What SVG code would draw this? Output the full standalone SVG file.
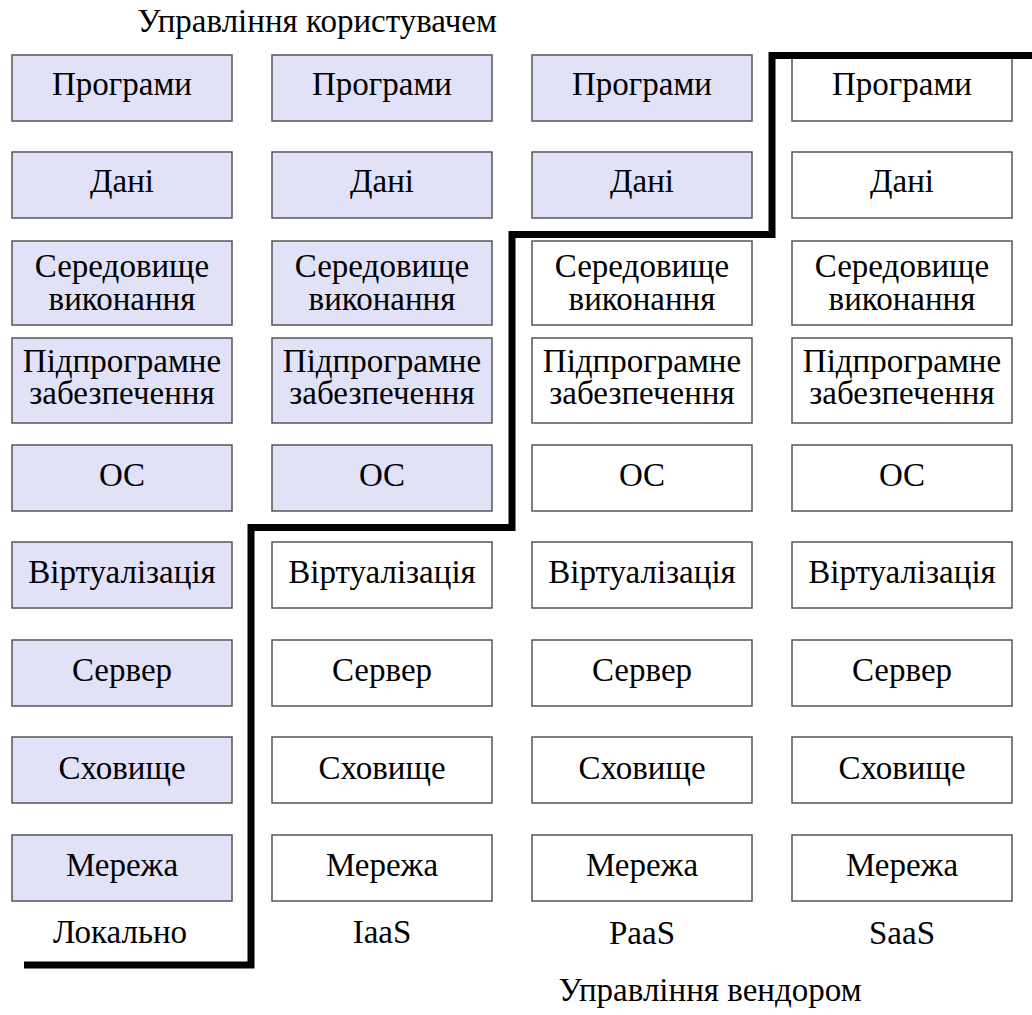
<svg xmlns="http://www.w3.org/2000/svg" width="1032" height="1015" viewBox="0 0 1032 1015">
<style>
  text { font-family: 'Liberation Serif', 'Times New Roman', serif; font-size: 33px; fill: #000; text-anchor: middle; }
  .box { stroke: #555; stroke-width: 1.5; }
  .u { fill: #e1e1f8; }
  .v { fill: #ffffff; }
  .step { fill: none; stroke: #000; stroke-width: 7; }
</style>
<rect width="1032" height="1015" fill="#fff"/>
<text x="317" y="32">Управління користувачем</text>

<g id="col-local">
  <g id="n-l-apps"><rect class="box u" x="12" y="55" width="220" height="66"/><text x="122" y="95">Програми</text></g>
  <g id="n-l-data"><rect class="box u" x="12" y="152" width="220" height="66"/><text x="122" y="192">Дані</text></g>
  <g id="n-l-rt"><rect class="box u" x="12" y="241" width="220" height="84"/><text><tspan x="122" y="277">Середовище</tspan><tspan x="122" y="310">виконання</tspan></text></g>
  <g id="n-l-mw"><rect class="box u" x="12" y="338" width="220" height="85"/><text><tspan x="122" y="372">Підпрограмне</tspan><tspan x="122" y="404">забезпечення</tspan></text></g>
  <g id="n-l-os"><rect class="box u" x="12" y="445" width="220" height="66"/><text x="122" y="486">ОС</text></g>
  <g id="n-l-virt"><rect class="box u" x="12" y="542" width="220" height="66"/><text x="122" y="583">Віртуалізація</text></g>
  <g id="n-l-srv"><rect class="box u" x="12" y="640" width="220" height="66"/><text x="122" y="681">Сервер</text></g>
  <g id="n-l-sto"><rect class="box u" x="12" y="737" width="220" height="66"/><text x="122" y="779">Сховище</text></g>
  <g id="n-l-net"><rect class="box u" x="12" y="835" width="220" height="66"/><text x="122" y="876">Мережа</text></g>
  <text x="120" y="943">Локально</text>
</g>

<g id="col-iaas">
  <g id="n-i-apps"><rect class="box u" x="272" y="55" width="220" height="66"/><text x="382" y="95">Програми</text></g>
  <g id="n-i-data"><rect class="box u" x="272" y="152" width="220" height="66"/><text x="382" y="192">Дані</text></g>
  <g id="n-i-rt"><rect class="box u" x="272" y="241" width="220" height="84"/><text><tspan x="382" y="277">Середовище</tspan><tspan x="382" y="310">виконання</tspan></text></g>
  <g id="n-i-mw"><rect class="box u" x="272" y="338" width="220" height="85"/><text><tspan x="382" y="372">Підпрограмне</tspan><tspan x="382" y="404">забезпечення</tspan></text></g>
  <g id="n-i-os"><rect class="box u" x="272" y="445" width="220" height="66"/><text x="382" y="486">ОС</text></g>
  <g id="n-i-virt"><rect class="box v" x="272" y="542" width="220" height="66"/><text x="382" y="583">Віртуалізація</text></g>
  <g id="n-i-srv"><rect class="box v" x="272" y="640" width="220" height="66"/><text x="382" y="681">Сервер</text></g>
  <g id="n-i-sto"><rect class="box v" x="272" y="737" width="220" height="66"/><text x="382" y="779">Сховище</text></g>
  <g id="n-i-net"><rect class="box v" x="272" y="835" width="220" height="66"/><text x="382" y="876">Мережа</text></g>
  <text x="382" y="943">IaaS</text>
</g>

<g id="col-paas">
  <g id="n-p-apps"><rect class="box u" x="532" y="55" width="220" height="66"/><text x="642" y="95">Програми</text></g>
  <g id="n-p-data"><rect class="box u" x="532" y="152" width="220" height="66"/><text x="642" y="192">Дані</text></g>
  <g id="n-p-rt"><rect class="box v" x="532" y="241" width="220" height="84"/><text><tspan x="642" y="277">Середовище</tspan><tspan x="642" y="310">виконання</tspan></text></g>
  <g id="n-p-mw"><rect class="box v" x="532" y="338" width="220" height="85"/><text><tspan x="642" y="372">Підпрограмне</tspan><tspan x="642" y="404">забезпечення</tspan></text></g>
  <g id="n-p-os"><rect class="box v" x="532" y="445" width="220" height="66"/><text x="642" y="486">ОС</text></g>
  <g id="n-p-virt"><rect class="box v" x="532" y="542" width="220" height="66"/><text x="642" y="583">Віртуалізація</text></g>
  <g id="n-p-srv"><rect class="box v" x="532" y="640" width="220" height="66"/><text x="642" y="681">Сервер</text></g>
  <g id="n-p-sto"><rect class="box v" x="532" y="737" width="220" height="66"/><text x="642" y="779">Сховище</text></g>
  <g id="n-p-net"><rect class="box v" x="532" y="835" width="220" height="66"/><text x="642" y="876">Мережа</text></g>
  <text x="642" y="944">PaaS</text>
</g>

<g id="col-saas">
  <g id="n-s-apps"><rect class="box v" x="792" y="55" width="220" height="66"/><text x="902" y="95">Програми</text></g>
  <g id="n-s-data"><rect class="box v" x="792" y="152" width="220" height="66"/><text x="902" y="192">Дані</text></g>
  <g id="n-s-rt"><rect class="box v" x="792" y="241" width="220" height="84"/><text><tspan x="902" y="277">Середовище</tspan><tspan x="902" y="310">виконання</tspan></text></g>
  <g id="n-s-mw"><rect class="box v" x="792" y="338" width="220" height="85"/><text><tspan x="902" y="372">Підпрограмне</tspan><tspan x="902" y="404">забезпечення</tspan></text></g>
  <g id="n-s-os"><rect class="box v" x="792" y="445" width="220" height="66"/><text x="902" y="486">ОС</text></g>
  <g id="n-s-virt"><rect class="box v" x="792" y="542" width="220" height="66"/><text x="902" y="583">Віртуалізація</text></g>
  <g id="n-s-srv"><rect class="box v" x="792" y="640" width="220" height="66"/><text x="902" y="681">Сервер</text></g>
  <g id="n-s-sto"><rect class="box v" x="792" y="737" width="220" height="66"/><text x="902" y="779">Сховище</text></g>
  <g id="n-s-net"><rect class="box v" x="792" y="835" width="220" height="66"/><text x="902" y="876">Мережа</text></g>
  <text x="902" y="944">SaaS</text>
</g>

<g id="connectors">
  <path class="step" d="M24 965 H251 V527.5 H512 V234.5 H772 V55.5 H1032"/>
</g>

<text x="710" y="1001">Управління вендором</text>
</svg>
